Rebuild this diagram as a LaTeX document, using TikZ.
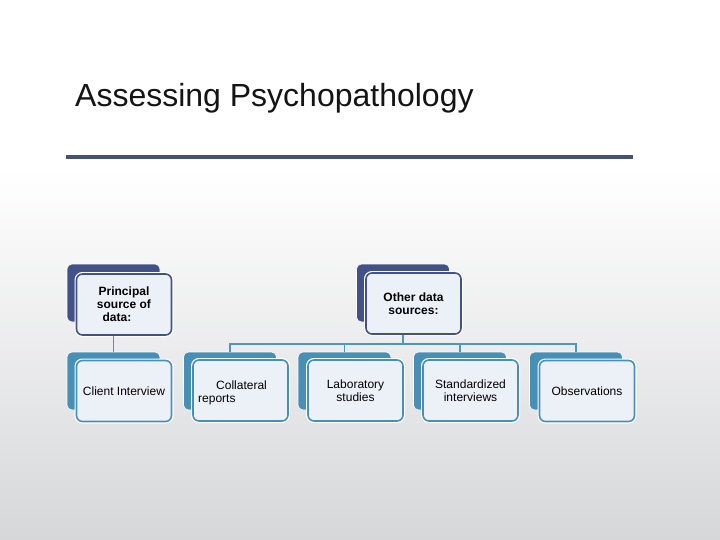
\documentclass[tikz,border=0pt]{standalone}
\usepackage{fontspec}
\setmainfont{Liberation Sans}
\definecolor{topblue}{RGB}{66,82,136}
\definecolor{botblue}{RGB}{72,143,182}
\definecolor{linkblue}{RGB}{84,148,186}
\definecolor{frontfill}{RGB}{236,241,247}
\definecolor{rulecol}{RGB}{68,82,120}
\definecolor{bgbot}{RGB}{214,215,217}
\begin{document}
\begin{tikzpicture}[x=1pt,y=-1pt,
  backbox/.style={rectangle, rounded corners=5pt, minimum width=93pt, minimum height=58pt, inner sep=0pt, draw=white, line width=0.6pt},
  topback/.style={backbox, fill=topblue},
  botback/.style={backbox, fill=botblue},
  frontbox/.style={rectangle, rounded corners=6pt, minimum width=95pt, minimum height=61pt, inner sep=0pt, fill=frontfill, line width=1.6pt, align=center, font=\fontsize{12}{13}\selectfont, preaction={draw=white, line width=4pt}},
  topfront/.style={frontbox, draw=topblue, font=\bfseries\fontsize{12}{13}\selectfont},
  botfront/.style={frontbox, draw=botblue},
  link/.style={draw=linkblue, line width=1.8pt}
]
\useasboundingbox (0,0) rectangle (720,540);
\fill[white] (0,0) rectangle (720,170);
\shade[top color=white, bottom color=bgbot] (0,169) rectangle (720,540);
% title
\node[anchor=base west, inner sep=0pt, font=\fontsize{32}{38}\selectfont, text=black!92] (title) at (75,107) {Assessing Psychopathology};
\draw[rulecol, line width=4pt] (66,157) coordinate (r1) -- (633,157) coordinate (r2);
% top row
\node[topback] (pb) at (113.5,293) {};
\node[topfront] (pf) at (124,304.5) {Principal\\source of\\data:\hspace*{14pt}};
\node[topback] (ob) at (403,293) {};
\node[topfront] (of) at (413.5,303.5) {Other data\\sources:};
% bottom row
\node[botback] (cb) at (113.5,381) {};
\node[botfront] (cf) at (124,391) {Client Interview};
\node[botback] (colb) at (230,381) {};
\node[botfront] (colf) at (240.5,390.5) {};
\node[anchor=north west, inner sep=0pt, align=left, font=\fontsize{12}{13}\selectfont] (coltext) at (198,381) {\hspace*{18pt}Collateral\\reports};
\node[botback] (labb) at (344.5,381) {};
\node[botfront] (labf) at (355.5,390.5) {Laboratory\\studies};
\node[botback] (stdb) at (460,381) {};
\node[botfront] (stdf) at (470.5,390.5) {Standardized\\interviews};
\node[botback] (obsb) at (576,381) {};
\node[botfront] (obsf) at (587,391) {Observations};
% connectors
\coordinate (hub) at (403,344);
\draw[link] (pb |- pf.south) -- (cb.north);
\draw[link] (ob |- of.south) -- (hub);
\draw[link] (colb.north) |- (hub) -| (obsb.north);
\draw[link] (labb.north) -- (labb.north |- hub);
\draw[link] (stdb.north) -- (stdb.north |- hub);
\end{tikzpicture}
\end{document}
